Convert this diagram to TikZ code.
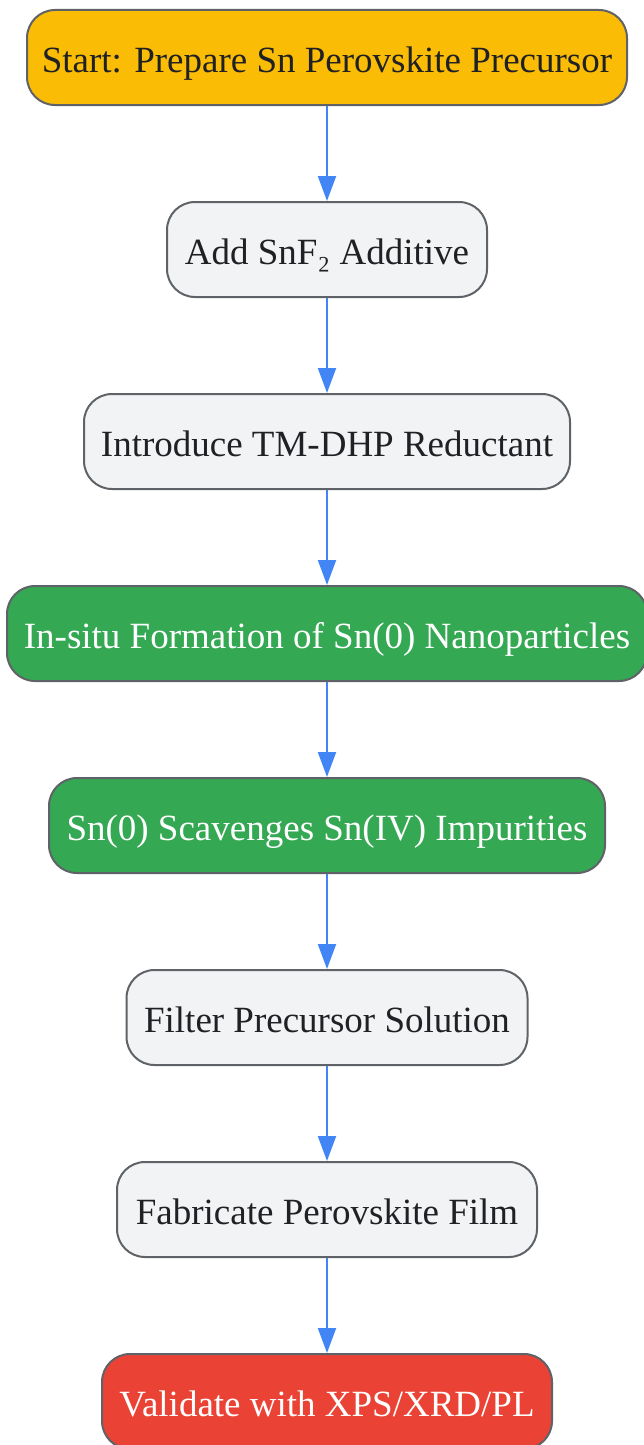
\documentclass[tikz,border=0pt]{standalone}
\usepackage{fontspec}
\setmainfont{Liberation Serif}
\usetikzlibrary{arrows.meta}
\definecolor{startc}{HTML}{FBBC05}
\definecolor{greenc}{HTML}{34A853}
\definecolor{redc}{HTML}{EA4335}
\definecolor{grayc}{HTML}{F1F3F4}
\definecolor{bordc}{HTML}{5F6368}
\definecolor{textc}{HTML}{202124}
\definecolor{arrc}{HTML}{4285F4}
\tikzset{
  box/.style={draw=bordc, line width=2pt, rounded corners=28pt, minimum height=95pt,
    inner sep=0pt, text height=29pt, text depth=0pt,
    font=\fontsize{37pt}{42pt}\selectfont, text=textc, fill=grayc},
  startbox/.style={box, fill=startc},
  greenbox/.style={box, fill=greenc, text=white},
  redbox/.style={box, fill=redc, text=white},
  conn/.style={draw=arrc, line width=2pt, -{Triangle[width=18pt,length=25pt]}}
}
\begin{document}
\begin{tikzpicture}[x=1pt,y=-1pt]
\useasboundingbox (0,0) rectangle (644,1445);
\node[startbox, minimum width=600pt] (n1) at (327,57.5) {Start: Prepare Sn Perovskite Precursor};
\node[box, minimum width=320pt] (n2) at (327,249.5) {Add SnF₂ Additive};
\node[box, minimum width=486pt] (n3) at (327,441.5) {Introduce TM-DHP Reductant};
\node[greenbox, minimum width=640pt] (n4) at (327,633.5) {In-situ Formation of Sn(0) Nanoparticles};
\node[greenbox, minimum width=556pt] (n5) at (327,825.5) {Sn(0) Scavenges Sn(IV) Impurities};
\node[box, minimum width=401pt] (n6) at (327,1017.5) {Filter Precursor Solution};
\node[box, minimum width=420pt] (n7) at (327,1209.5) {Fabricate Perovskite Film};
\node[redbox, minimum width=450pt] (n8) at (327,1401.5) {Validate with XPS/XRD/PL};
\draw[conn] (n1.south) -- (n2.north);
\draw[conn] (n2.south) -- (n3.north);
\draw[conn] (n3.south) -- (n4.north);
\draw[conn] (n4.south) -- (n5.north);
\draw[conn] (n5.south) -- (n6.north);
\draw[conn] (n6.south) -- (n7.north);
\draw[conn] (n7.south) -- (n8.north);
\end{tikzpicture}
\end{document}
